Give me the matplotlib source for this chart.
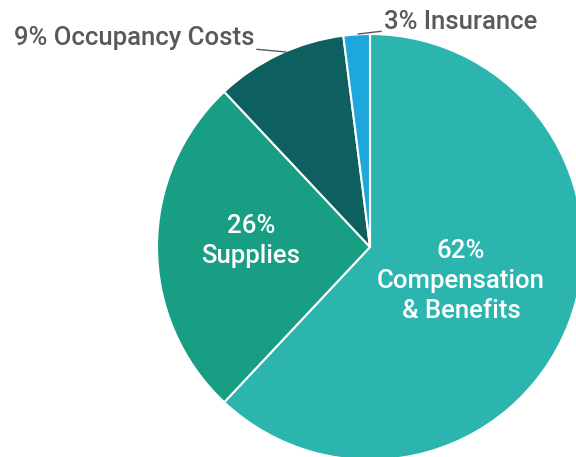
import matplotlib
matplotlib.use("Agg")
import matplotlib.pyplot as plt

# expense breakdown
categories = ["Compensation\n& Benefits", "Supplies", "Occupancy Costs", "Insurance"]
labels_pct = ["62%", "26%", "9%", "3%"]
values = [62, 26, 10, 2]
colors = ["#2bb5ae", "#179e83", "#0e5f5f", "#1ea7db"]

plt.rcParams['font.family'] = ['Roboto', 'DejaVu Sans']

W, H = 576, 457
fig = plt.figure(figsize=(W / 100, H / 100), dpi=100)
cx, cy, r = 370, 247, 213
ax = fig.add_axes([(cx - r) / W, (H - cy - r) / H, 2 * r / W, 2 * r / H])

wedges, _ = ax.pie(values, colors=colors, startangle=90, counterclock=False, radius=1,
                   wedgeprops=dict(edgecolor="white", linewidth=1.5))
for w in wedges:
    w.set_clip_on(False)
ax.set_xlim(-1, 1)
ax.set_ylim(-1, 1)
ax.set_aspect("equal")
ax.axis("off")

def px(x, y):
    return (x - cx) / r, (cy - y) / r

# labels inside the slices
ax.text(*px(461, 281), labels_pct[0] + "\n" + categories[0], color="white", fontsize=18.5,
        weight="medium", ha="center", va="center", linespacing=1.3)
ax.text(*px(251, 241), labels_pct[1] + "\n" + categories[1], color="white", fontsize=18.5,
        weight="medium", ha="center", va="center", linespacing=1.3)

# outside labels with leader lines
gray = "#58595b"
ax.annotate(labels_pct[2] + " " + categories[2], xy=px(286, 52), xytext=px(254, 38),
            ha="right", va="center", fontsize=18.5, weight="medium", color=gray,
            annotation_clip=False,
            arrowprops=dict(arrowstyle="-", color=gray, lw=1, shrinkA=0, shrinkB=0))
ax.annotate(labels_pct[3] + " " + categories[3], xy=px(358, 34), xytext=px(384, 22),
            ha="left", va="center", fontsize=18.5, weight="medium", color=gray,
            annotation_clip=False,
            arrowprops=dict(arrowstyle="-", color=gray, lw=1, shrinkA=0, shrinkB=0))

fig.savefig("out.png", dpi=100)
